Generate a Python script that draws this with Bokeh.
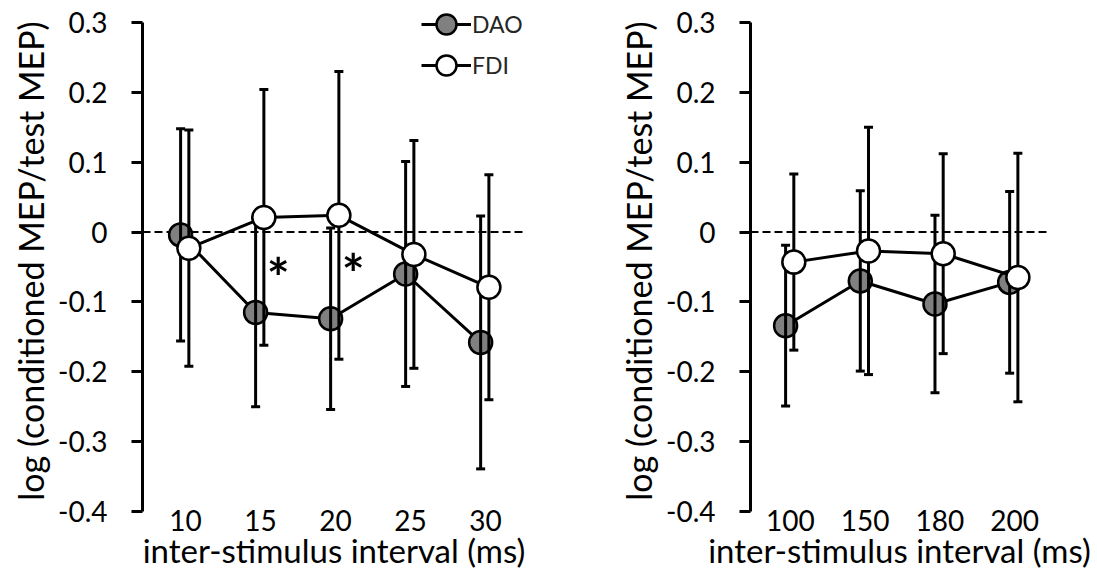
from bokeh.plotting import figure
from bokeh.models import ColumnDataSource, Range1d, FixedTicker, Span, Legend, LegendItem
from bokeh.layouts import row
from bokeh.transform import dodge
from bokeh.core.properties import value
from bokeh.embed import file_html
from bokeh.resources import INLINE

# ---------------- data ----------------
left_cats = ["10", "15", "20", "25", "30"]
left_dao_mean = [-0.004, -0.115, -0.124, -0.060, -0.158]
left_dao_sd = [0.152, 0.135, 0.130, 0.161, 0.181]
left_fdi_mean = [-0.023, 0.021, 0.024, -0.032, -0.079]
left_fdi_sd = [0.169, 0.183, 0.206, 0.163, 0.161]

right_cats = ["100", "150", "180", "200"]
right_dao_mean = [-0.134, -0.070, -0.103, -0.072]
right_dao_sd = [0.115, 0.129, 0.127, 0.130]
right_fdi_mean = [-0.043, -0.027, -0.031, -0.065]
right_fdi_sd = [0.126, 0.177, 0.143, 0.178]

y_ticks = [-0.4, -0.3, -0.2, -0.1, 0.0, 0.1, 0.2, 0.3]
y_tick_labels = ["-0.4", "-0.3", "-0.2", "-0.1", "0", "0.1", "0.2", "0.3"]

sig_cats = ["15", "20"]          # significant DAO vs FDI differences
star_y = [-0.064, -0.058]

series_names = ["DAO", "FDI"]

# ---------------- style ----------------
FONT = "Lato"
DAO_FILL = "#808080"
DAO_DX = -0.065
FDI_DX = 0.045
STAR_DX = 0.235
Y_LO, Y_HI = -0.4, 0.3
Y_VIEW_TOP = 0.3172      # a little head-room above the axis for the legend
FRAME_H = 501


def make_panel(cats, dao_m, dao_sd, fdi_m, fdi_sd, x_lo, x_hi, fw,
               b_left, b_right, legend=False, stars=False):
    idx = list(range(len(cats)))
    src = ColumnDataSource(dict(
        x=idx,
        dao=dao_m,
        dao_hi=[m + s for m, s in zip(dao_m, dao_sd)],
        dao_lo=[m - s for m, s in zip(dao_m, dao_sd)],
        fdi=fdi_m,
        fdi_hi=[m + s for m, s in zip(fdi_m, fdi_sd)],
        fdi_lo=[m - s for m, s in zip(fdi_m, fdi_sd)],
    ))
    p = figure(frame_width=fw, frame_height=FRAME_H,
               x_range=Range1d(x_lo, x_hi), y_range=Range1d(Y_LO, Y_VIEW_TOP),
               output_backend="svg", toolbar_location=None,
               min_border_left=b_left, min_border_right=b_right,
               min_border_top=10, min_border_bottom=60)
    p.outline_line_color = None
    p.grid.visible = False

    p.add_layout(Span(location=0, dimension="width", line_color="black",
                      line_width=2, line_dash="8 4", level="underlay"))

    xd = dodge("x", DAO_DX, range=p.x_range)
    xf = dodge("x", FDI_DX, range=p.x_range)

    dao_line = p.line(x=xd, y="dao", source=src, line_color="black", line_width=3)
    dao_pts = p.scatter(x=xd, y="dao", source=src, size=23, fill_color=DAO_FILL,
                        line_color="black", line_width=2.5)
    p.segment(x0=xd, y0="dao_lo", x1=xd, y1="dao_hi", source=src,
              line_color="black", line_width=3)
    p.scatter(x=xd, y="dao_hi", source=src, marker="dash", size=9,
              line_color="black", line_width=3)
    p.scatter(x=xd, y="dao_lo", source=src, marker="dash", size=9,
              line_color="black", line_width=3)

    fdi_line = p.line(x=xf, y="fdi", source=src, line_color="black", line_width=3)
    p.segment(x0=xf, y0="fdi_lo", x1=xf, y1="fdi_hi", source=src,
              line_color="black", line_width=3)
    p.scatter(x=xf, y="fdi_hi", source=src, marker="dash", size=9,
              line_color="black", line_width=3)
    p.scatter(x=xf, y="fdi_lo", source=src, marker="dash", size=9,
              line_color="black", line_width=3)
    fdi_pts = p.scatter(x=xf, y="fdi", source=src, size=23, fill_color="white",
                        line_color="black", line_width=2.5)

    if stars:
        sx = [cats.index(c) + STAR_DX for c in sig_cats]
        p.text(x=sx, y=star_y, text=["*"] * len(sx), text_font=value(FONT),
               text_font_size="54px", text_font_style="bold",
               text_align="center", text_baseline="middle", text_color="black")

    if legend:
        specs = [(series_names[0], [dao_line, dao_pts], (279, 462)),
                 (series_names[1], [fdi_line, fdi_pts], (279, 421))]
        for name, rends, loc in specs:
            leg = Legend(items=[LegendItem(label=name, renderers=rends)],
                         location=loc, orientation="vertical")
            leg.glyph_width = 50
            leg.glyph_height = 50
            leg.padding = 0
            leg.margin = 0
            leg.label_standoff = 1
            leg.label_text_font = FONT
            leg.label_text_font_size = "23px"
            leg.label_text_color = "#262626"
            leg.border_line_color = None
            leg.background_fill_alpha = 0
            p.add_layout(leg)

    # y axis
    ya = p.yaxis[0]
    ya.bounds = (Y_LO, Y_HI)
    ya.ticker = FixedTicker(ticks=y_ticks)
    ya.major_label_overrides = dict(zip(y_ticks, y_tick_labels))
    ya.axis_line_width = 3
    ya.major_tick_line_width = 3
    ya.major_tick_out = 11
    ya.major_tick_in = 0
    ya.minor_tick_out = 0
    ya.minor_tick_in = 0
    ya.major_label_standoff = 24
    ya.major_label_text_font = FONT
    ya.major_label_text_font_size = "28px"
    ya.major_label_text_color = "black"
    ya.axis_label = "log (conditioned MEP/test MEP)"
    ya.axis_label_text_font = FONT
    ya.axis_label_text_font_size = "34px"
    ya.axis_label_text_font_style = "normal"
    ya.axis_label_text_color = "black"
    ya.axis_label_standoff = 4

    # x axis
    xa = p.xaxis[0]
    xa.ticker = FixedTicker(ticks=idx)
    xa.major_label_overrides = {i: c for i, c in zip(idx, cats)}
    xa.axis_line_color = None
    xa.major_tick_line_color = None
    xa.minor_tick_line_color = None
    xa.major_tick_out = 0
    xa.major_tick_in = 0
    xa.minor_tick_out = 0
    xa.minor_tick_in = 0
    xa.major_label_standoff = -2
    xa.major_label_text_font = FONT
    xa.major_label_text_font_size = "28px"
    xa.major_label_text_color = "black"
    xa.axis_label = "inter-stimulus interval (ms)"
    xa.axis_label_text_font = FONT
    xa.axis_label_text_font_size = "33px"
    xa.axis_label_text_font_style = "normal"
    xa.axis_label_text_color = "black"
    xa.axis_label_standoff = -4
    return p


p1 = make_panel(left_cats, left_dao_mean, left_dao_sd, left_fdi_mean, left_fdi_sd,
                -0.573, 4.533, 383, 142, 84, legend=True, stars=True)
p2 = make_panel(right_cats, right_dao_mean, right_dao_sd, right_fdi_mean, right_fdi_sd,
                -0.535, 3.455, 298, 141, 46)

layout = row(p1, p2)
open("out.html", "w").write(file_html(layout, INLINE))
